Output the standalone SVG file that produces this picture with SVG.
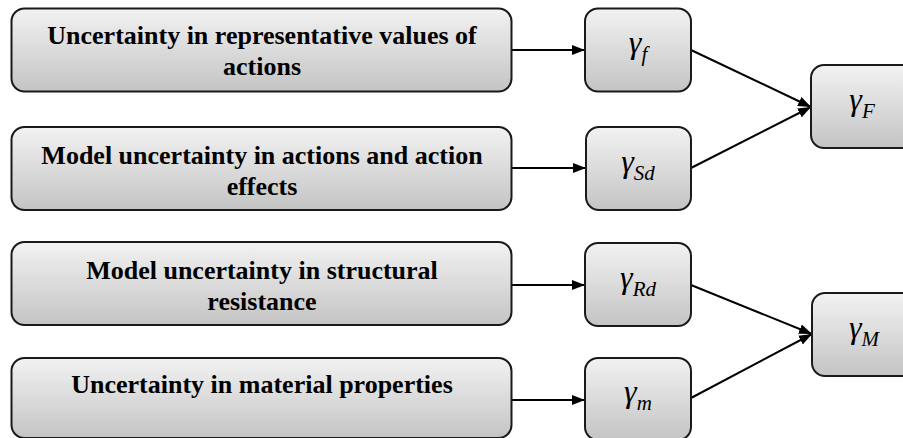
<svg xmlns="http://www.w3.org/2000/svg" width="903" height="438" viewBox="0 0 903 438">
  <defs>
    <linearGradient id="g" x1="0" y1="0" x2="0" y2="1">
      <stop offset="0" stop-color="#f2f2f2"/>
      <stop offset="1" stop-color="#c4c4c4"/>
    </linearGradient>
    <marker id="ah" markerUnits="userSpaceOnUse" markerWidth="13" markerHeight="10" refX="13" refY="5" orient="auto">
      <path d="M0,0 L13,5 L0,10 z" fill="#000"/>
    </marker>
    <style>
      .box { fill: url(#g); stroke: #1a1a1a; stroke-width: 2; }
      .lbl { font-family: 'Times New Roman', Tinos, 'Liberation Serif', 'DejaVu Serif', serif; font-weight: bold; font-size: 26px; fill: #000; text-anchor: middle; }
      .gam { font-family: 'Times New Roman', Tinos, 'Liberation Serif', 'DejaVu Serif', serif; font-style: italic; font-size: 32px; fill: #000; text-anchor: middle; }
      .sub { font-size: 21px; }
      .con { stroke: #000; stroke-width: 2; fill: none; marker-end: url(#ah); }
    </style>
  </defs>
  <rect width="903" height="438" fill="#fff"/>

  <g id="connectors">
    <line class="con" x1="512" y1="50" x2="585" y2="50"/>
    <line class="con" x1="512" y1="168" x2="586" y2="168"/>
    <line class="con" x1="512" y1="285" x2="585" y2="285"/>
    <line class="con" x1="512" y1="400" x2="585" y2="400"/>
    <line class="con" x1="691" y1="50" x2="811" y2="107"/>
    <line class="con" x1="691" y1="168" x2="811" y2="107"/>
    <line class="con" x1="691" y1="285" x2="812" y2="334"/>
    <line class="con" x1="691" y1="398" x2="812" y2="334"/>
  </g>

  <g id="node-actions">
    <rect class="box" x="11.5" y="8.5" width="500" height="83" rx="13"/>
    <text class="lbl" x="262" y="44">Uncertainty in representative values of</text>
    <text class="lbl" x="262" y="75">actions</text>
  </g>
  <g id="node-model-actions">
    <rect class="box" x="11.5" y="127" width="500" height="83" rx="13"/>
    <text class="lbl" x="262" y="164">Model uncertainty in actions and action</text>
    <text class="lbl" x="262" y="195">effects</text>
  </g>
  <g id="node-model-resistance">
    <rect class="box" x="11.5" y="242" width="500" height="83" rx="13"/>
    <text class="lbl" x="262" y="279">Model uncertainty in structural</text>
    <text class="lbl" x="262" y="310">resistance</text>
  </g>
  <g id="node-material">
    <rect class="box" x="11.5" y="358" width="500" height="80" rx="13"/>
    <text class="lbl" x="262" y="393">Uncertainty in material properties</text>
  </g>

  <g id="node-gamma-f">
    <rect class="box" x="585" y="8.5" width="106" height="83" rx="13"/>
    <text class="gam" x="638" y="53">γ<tspan class="sub" dy="8">f</tspan></text>
  </g>
  <g id="node-gamma-Sd">
    <rect class="box" x="586" y="127" width="105" height="83" rx="13"/>
    <text class="gam" x="638" y="172">γ<tspan class="sub" dy="8">Sd</tspan></text>
  </g>
  <g id="node-gamma-Rd">
    <rect class="box" x="585" y="243" width="106" height="83" rx="13"/>
    <text class="gam" x="638" y="288">γ<tspan class="sub" dy="8">Rd</tspan></text>
  </g>
  <g id="node-gamma-m">
    <rect class="box" x="585" y="358" width="106" height="82" rx="13"/>
    <text class="gam" x="638" y="402">γ<tspan class="sub" dy="8">m</tspan></text>
  </g>

  <g id="node-gamma-F">
    <rect class="box" x="811" y="65" width="106" height="83" rx="13"/>
    <text class="gam" x="862" y="110">γ<tspan class="sub" dy="8">F</tspan></text>
  </g>
  <g id="node-gamma-M">
    <rect class="box" x="812" y="293" width="106" height="83" rx="13"/>
    <text class="gam" x="864" y="338">γ<tspan class="sub" dy="8">M</tspan></text>
  </g>
</svg>
